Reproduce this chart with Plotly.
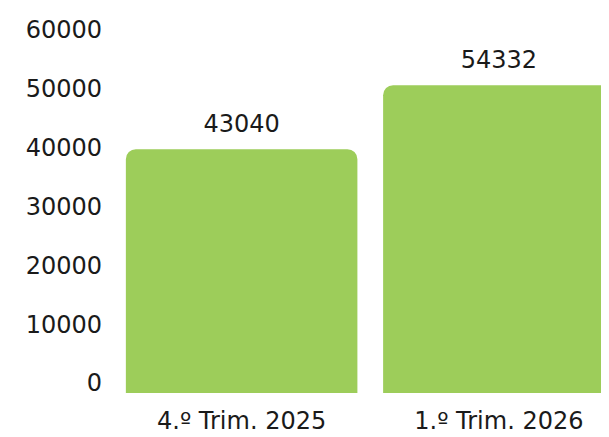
import plotly.graph_objects as go

categories = ["4.º Trim. 2025", "1.º Trim. 2026"]
values = [43040, 54332]
ytick_vals = [0, 10000, 20000, 30000, 40000, 50000, 60000]
ytick_text = ["0", "10000", "20000", "30000", "40000", "50000", "60000"]

FONT = "DejaVu Sans"
GREEN = "#9dcd5a"
INK = "#1a1a1a"

fig = go.Figure()
fig.add_trace(go.Bar(
    x=categories, y=values,
    marker=dict(color=GREEN, cornerradius=10, line=dict(width=0)),
    width=0.9,
    hoverinfo="skip",
))
fig.add_trace(go.Scatter(
    x=categories, y=values, mode="markers+text",
    marker=dict(size=16, color="rgba(0,0,0,0)"),
    text=[str(v) for v in values],
    textposition="top center",
    textfont=dict(family=FONT, size=24, color=INK),
    hoverinfo="skip",
))
# axis carrying the tick labels only
fig.add_trace(go.Scatter(x=[], y=[], yaxis="y2", hoverinfo="skip"))

fig.update_layout(
    width=601, height=429,
    margin=dict(l=105, r=0, t=2, b=44, autoexpand=False),
    paper_bgcolor="white", plot_bgcolor="white",
    showlegend=False,
    font=dict(family=FONT, size=24, color=INK),
    xaxis=dict(
        range=[-0.5, 1.428], showgrid=False, zeroline=False, showline=False,
        ticks="", tickfont=dict(family=FONT, size=24, color=INK),
        automargin=False, ticklabelstandoff=11,
    ),
    yaxis=dict(
        range=[0, 67600], showgrid=False, zeroline=False, showline=False,
        showticklabels=False, ticks="", automargin=False,
    ),
    yaxis2=dict(
        overlaying="y", side="left", range=[-1700, 63400],
        tickvals=ytick_vals, ticktext=ytick_text,
        showgrid=False, zeroline=False, showline=False, ticks="",
        tickfont=dict(family=FONT, size=24, color=INK),
        ticklabelstandoff=10, automargin=False,
    ),
)

fig.write_html("out.html")
